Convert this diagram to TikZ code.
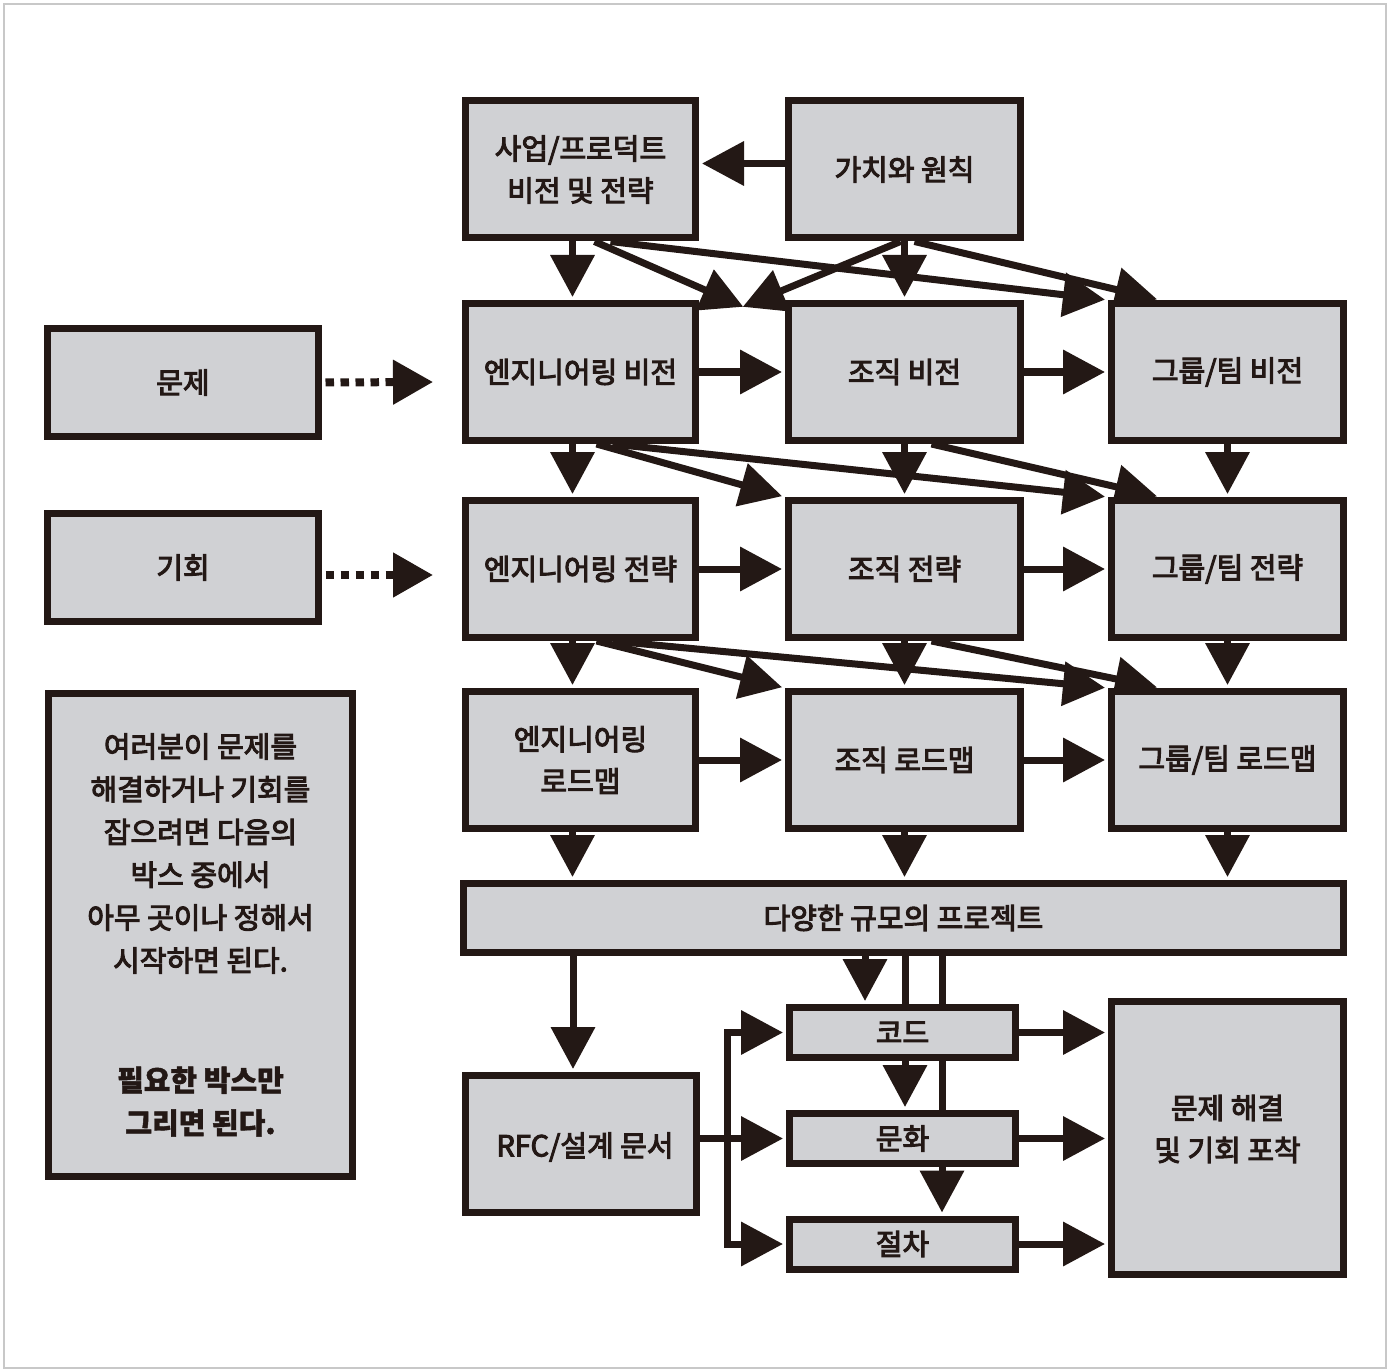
\documentclass[tikz,border=0pt]{standalone}
\usepackage{fontspec}
\setmainfont{Noto Sans CJK KR}[UprightFeatures={FakeBold=3.5},BoldFeatures={FakeBold=1.5}]
\usetikzlibrary{arrows.meta,calc,backgrounds}
\definecolor{ink}{RGB}{35,24,21}
\definecolor{boxgray}{RGB}{208,209,212}
\definecolor{framegray}{RGB}{200,200,200}
\begin{document}
\begin{tikzpicture}[x=1pt,y=-1pt,
  box/.style={draw=ink, fill=boxgray, line width=7pt, inner sep=0pt,
    minimum width=230pt, minimum height=137pt, align=center, text=ink,
    font=\fontsize{29}{42}\selectfont},
  lbl/.style={align=center, text=ink, inner sep=0pt, font=\fontsize{29}{42}\selectfont},
  arr/.style={draw=ink, line width=7pt, line join=miter, shorten >=3pt,
    -{Triangle[length=42pt,width=43pt]}},
  dotarr/.style={draw=ink, line width=8pt, dash pattern=on 8.5pt off 6.5pt,
    shorten <=3.5pt, -{Triangle[length=40pt,width=43pt]}}]
\useasboundingbox (0,0) rectangle (1390,1372);
\draw[framegray, line width=1.5pt] (4,4) rectangle (1386,1368);

% top row
\node[box] (biz) at (580.5,169.5) {사업/프로덕트\\비전 및 전략};
\node[box, minimum width=232pt] (val) at (904.5,169.5) {가치와 원칙};
% vision row
\node[box] (engv) at (580.5,372) {엔지니어링 비전};
\node[box, minimum width=232pt] (orgv) at (904.5,372) {조직 비전};
\node[box, minimum width=232pt] (grpv) at (1227.5,372) {그룹/팀 비전};
% strategy row
\node[box] (engs) at (580.5,569) {엔지니어링 전략};
\node[box, minimum width=232pt] (orgs) at (904.5,569) {조직 전략};
\node[box, minimum width=232pt] (grps) at (1227.5,569) {그룹/팀 전략};
% roadmap row
\node[box] (engr) at (580.5,760) {엔지니어링\\로드맵};
\node[box, minimum width=232pt] (orgr) at (904.5,760) {조직 로드맵};
\node[box, minimum width=232pt] (grpr) at (1227.5,760) {그룹/팀 로드맵};
% projects
\node[box, minimum width=880pt, minimum height=69pt] (proj) at (903.5,918) {다양한 규모의 프로젝트};
% left side
\node[box, minimum width=271pt, minimum height=108pt] (prob) at (183,382.5) {문제};
\node[box, minimum width=271pt, minimum height=108pt] (opp) at (183,567.5) {기회};
\node[box, minimum width=304pt, minimum height=483pt,
  font=\fontsize{29}{42.8}\selectfont] (note) at (200.5,935)
  {여러분이 문제를\\해결하거나 기회를\\잡으려면 다음의\\박스 중에서\\아무 곳이나 정해서\\시작하면 된다.\\[77pt]
   {\bfseries 필요한 박스만}\\{\bfseries 그리면 된다.}};
% bottom
\node[box, minimum width=231pt] (rfc) at (581,1144) {};
\node[lbl] (rfclbl) at (585,1147) {RFC/설계 문서};
\node[box, minimum width=226pt, minimum height=50pt] (code) at (902.5,1032.5) {코드};
\node[box, minimum width=226pt, minimum height=50pt] (cult) at (902.5,1138.5) {문화};
\node[box, minimum width=226pt, minimum height=50pt] (proc) at (902.5,1244) {절차};
\node[box, minimum width=232pt, minimum height=273pt] (solve) at (1227.5,1138) {};
\node[lbl] (solvelbl) at (1227.5,1129) {문제 해결\\및 기회 포착};

\coordinate (tipA) at (746,308);
\coordinate (tipB) at (740,308);
\coordinate (probtip) at (433,382);
\coordinate (opptip) at (433,575);
\coordinate (br) at (727,1138.5);

\begin{scope}[on background layer]
% top row
\draw[arr] ($(val.west)+(0,-6)$) -- ($(biz.east)+(0,-6)$);
\draw[arr] ($(biz.south)+(-8,0)$) -- ($(engv.north)+(-8,0)$);
\draw[arr] (val.south) -- (orgv.north);
\draw[arr] ($(biz.south)+(14,0)$) -- (tipA);
\draw[arr] ($(biz.south)+(30,0)$) -- (grpv.north west);
\draw[arr] ($(val.south)+(-4,0)$) -- (tipB);
\draw[arr] ($(val.south)+(10,0)$) -- ($(grpv.north west)+(52,0)$);
% vision -> strategy
\draw[arr] (engv.east) -- (orgv.west);
\draw[arr] (orgv.east) -- (grpv.west);
\draw[arr] ($(engv.south)+(-8,0)$) -- ($(engs.north)+(-8,0)$);
\draw[arr] (orgv.south) -- (orgs.north);
\draw[arr] (grpv.south) -- (grps.north);
\draw[arr] ($(engv.south)+(16,0)$) -- (orgs.north west);
\draw[arr] ($(engv.south)+(32,0)$) -- (grps.north west);
\draw[arr] ($(orgv.south)+(27,0)$) -- ($(grps.north west)+(52,0)$);
% strategy -> roadmap
\draw[arr] (engs.east) -- (orgs.west);
\draw[arr] (orgs.east) -- (grps.west);
\draw[arr] ($(engs.south)+(-8,0)$) -- ($(engr.north)+(-8,0)$);
\draw[arr] (orgs.south) -- (orgr.north);
\draw[arr] (grps.south) -- (grpr.north);
\draw[arr] ($(engs.south)+(16,0)$) -- (orgr.north west);
\draw[arr] ($(engs.south)+(32,0)$) -- (grpr.north west);
\draw[arr] ($(orgs.south)+(27,0)$) -- ($(grpr.north west)+(52,0)$);
% roadmap -> projects
\draw[arr] (engr.east) -- (orgr.west);
\draw[arr] (orgr.east) -- (grpr.west);
\draw[arr] ($(engr.south)+(-8,0)$) -- ($(engr.south|-proj.north)+(-8,0)$);
\draw[arr] (orgr.south) -- (orgr.south|-proj.north);
\draw[arr] (grpr.south) -- (grpr.south|-proj.north);
% left dotted
\draw[dotarr] (prob.east) -- (probtip);
\draw[dotarr] (opp.east|-opptip) -- (opptip);
% projects -> bottom
\draw[arr] ($(rfc.north|-proj.south)+(-8,0)$) -- ($(rfc.north)+(-8,0)$);
\draw[arr] ($(code.north|-proj.south)+(-37.5,0)$) -- ($(code.north)+(-37.5,0)$);
\draw[arr] ($(code.north|-proj.south)+(2.5,0)$) -- ($(cult.north)+(2.5,0)$);
\draw[arr] ($(code.north|-proj.south)+(39.5,0)$) -- ($(proc.north)+(39.5,0)$);
% rfc branch
\draw[arr] (rfc.east|-cult.west) -- (cult.west);
\draw[arr] (br) |- (code.west);
\draw[arr] (br) |- (proc.west);
% to solve
\draw[arr] (code.east) -- (code.east-|solve.west);
\draw[arr] (cult.east) -- (cult.east-|solve.west);
\draw[arr] (proc.east) -- (proc.east-|solve.west);
\end{scope}
\end{tikzpicture}
\end{document}
